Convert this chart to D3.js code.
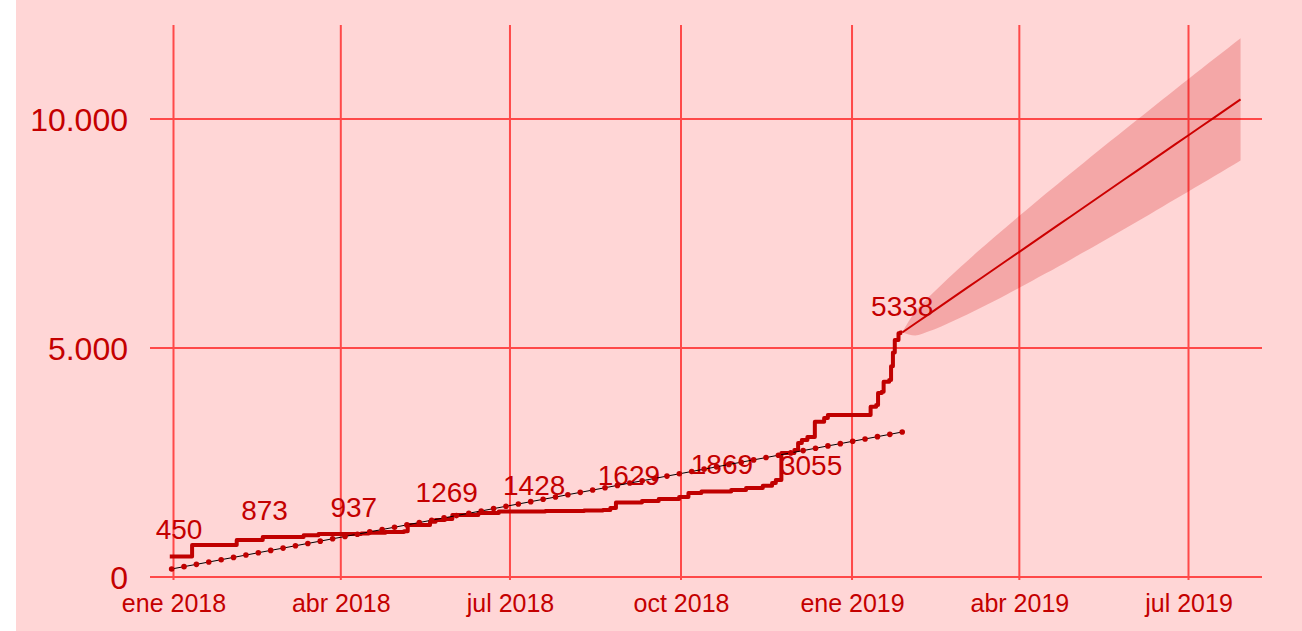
<!DOCTYPE html>
<html>
<head>
<meta charset="utf-8">
<script src="https://cdn.jsdelivr.net/npm/d3@7"></script>
<style>
  html, body { margin: 0; padding: 0; background: #ffffff; }
  svg { display: block; }
  text { font-family: "Liberation Sans", Arial, sans-serif; }
</style>
</head>
<body>
<svg id="chart" width="1302" height="631"></svg>
<script>
// Cumulative count: each value holds from its date until the next date
const stepDates = [
  "2017-12-30", "2018-01-11", "2018-02-04", "2018-02-18", "2018-03-12", "2018-03-20",
  "2018-04-12", "2018-04-16", "2018-04-25", "2018-05-05", "2018-05-07", "2018-05-19",
  "2018-05-22", "2018-05-27", "2018-05-31", "2018-06-14", "2018-06-25", "2018-07-20",
  "2018-08-10", "2018-08-20", "2018-08-24", "2018-08-27", "2018-09-10", "2018-09-19",
  "2018-09-30", "2018-10-05", "2018-10-12", "2018-10-28", "2018-11-05", "2018-11-14",
  "2018-11-19", "2018-11-21", "2018-11-24", "2018-12-01", "2018-12-03", "2018-12-05",
  "2018-12-08", "2018-12-12", "2018-12-17", "2018-12-19", "2019-01-11", "2019-01-14",
  "2019-01-15", "2019-01-17", "2019-01-18", "2019-01-21", "2019-01-22", "2019-01-23",
  "2019-01-24", "2019-01-26", "2019-01-27", "2019-01-28"
];
const stepValues = [
  450, 700, 808, 873, 910, 937,
  950, 965, 985, 1000, 1135, 1208,
  1245, 1269, 1354, 1400, 1428, 1440,
  1450, 1463, 1506, 1629, 1660, 1703,
  1747, 1834, 1869, 1900, 1943, 1990,
  2050, 2118, 2707, 2773, 2926, 2991,
  3055, 3391, 3472, 3537, 3718, 3755,
  4017, 4046, 4264, 4301, 4600, 4900,
  5175, 5321, 5338, 5338
];

// Annotated points on the cumulative line
const labelDates = ["2018-01-04", "2018-02-19", "2018-04-08", "2018-05-28", "2018-07-14",
                    "2018-09-03", "2018-10-23", "2018-12-10", "2019-01-28"];
const labelValues = [450, 873, 937, 1269, 1428, 1629, 1869, 3055, 5338];

// Linear trend, evenly spaced points between its first and last date
const trendStart = "2017-12-31";
const trendEnd = "2019-01-28";
const trendValues = [
  175, 226, 276, 327, 378, 428, 479, 530, 581, 631,
  682, 733, 783, 834, 885, 935, 986, 1037, 1087, 1138,
  1189, 1240, 1290, 1341, 1392, 1442, 1493, 1544, 1594, 1645,
  1696, 1746, 1797, 1848, 1898, 1949, 2000, 2051, 2101, 2152,
  2203, 2253, 2304, 2355, 2405, 2456, 2507, 2557, 2608, 2659,
  2710, 2760, 2811, 2862, 2912, 2963, 3014, 3064, 3115, 3166
];

// Weekly forecast from the last observation, with its interval
const forecastDates = [
  "2019-01-28", "2019-02-04", "2019-02-11", "2019-02-18", "2019-02-25", "2019-03-04",
  "2019-03-11", "2019-03-18", "2019-03-25", "2019-04-01", "2019-04-08", "2019-04-15",
  "2019-04-22", "2019-04-29", "2019-05-06", "2019-05-13", "2019-05-20", "2019-05-27",
  "2019-06-03", "2019-06-10", "2019-06-17", "2019-06-24", "2019-07-01", "2019-07-08",
  "2019-07-15", "2019-07-22", "2019-07-29"
];
const forecastMean = [
  5338, 5534, 5730, 5925, 6121, 6317, 6513, 6709, 6904, 7100, 7296, 7492, 7688, 7883,
  8079, 8275, 8471, 8667, 8862, 9058, 9254, 9450, 9646, 9841, 10037, 10233, 10429
];
const forecastLower = [
  5338, 5272, 5360, 5472, 5598, 5732, 5872, 6017, 6164, 6315, 6469, 6624, 6782, 6940,
  7100, 7262, 7424, 7588, 7752, 7917, 8084, 8251, 8419, 8586, 8755, 8925, 9095
];
const forecastUpper = [
  5338, 5796, 6100, 6378, 6644, 6902, 7154, 7401, 7644, 7885, 8123, 8360, 8594, 8826,
  9058, 9288, 9518, 9746, 9972, 10199, 10424, 10649, 10873, 11096, 11319, 11541, 11763
];

// Axis ticks
const xTickDates = ["2018-01-01", "2018-04-01", "2018-07-01", "2018-10-01",
                    "2019-01-01", "2019-04-01", "2019-07-01"];
const xTickLabels = ["ene 2018", "abr 2018", "jul 2018", "oct 2018",
                     "ene 2019", "abr 2019", "jul 2019"];
const yTicks = [0, 5000, 10000];

const parse = d3.utcParse("%Y-%m-%d");
const esLocale = d3.formatLocale({ decimal: ",", thousands: ".", grouping: [3], currency: ["", " €"] });
const fmtY = esLocale.format(",d");

const W = 1302, H = 631;
const panelLeft = 16;
const plot = { left: 150, right: 1262, top: 25, bottom: 577 };

const x = d3.scaleUtc()
  .domain([parse("2018-01-01"), parse("2019-07-01")])
  .range([173.5, 1188.5]);
const y = d3.scaleLinear()
  .domain([0, 10000])
  .range([plot.bottom, 119]);

const svg = d3.select("#chart");

const C = {
  panel: "#ffd6d6",
  grid: "#ff3a3a",
  text: "#c40000",
  line: "#c00000",
  band: "#cc0000"
};

svg.append("rect")
  .attr("x", panelLeft).attr("y", 0)
  .attr("width", W - panelLeft).attr("height", H)
  .attr("fill", C.panel);

// Grid
const grid = svg.append("g").attr("stroke", C.grid).attr("stroke-width", 2).attr("opacity", 0.9);
grid.selectAll("line.h").data(yTicks).join("line")
  .attr("class", "h")
  .attr("x1", plot.left).attr("x2", plot.right)
  .attr("y1", d => y(d)).attr("y2", d => y(d));
grid.selectAll("line.v").data(xTickDates.map(parse)).join("line")
  .attr("class", "v")
  .attr("x1", d => x(d)).attr("x2", d => x(d))
  .attr("y1", plot.top).attr("y2", plot.bottom + 3);

// Axes (labels only; the grid draws the lines)
const xAxis = d3.axisBottom(x)
  .tickValues(xTickDates.map(parse))
  .tickFormat((d, i) => xTickLabels[i])
  .tickSize(0).tickPadding(0);
const gx = svg.append("g").attr("transform", `translate(0,${plot.bottom})`).call(xAxis);
gx.select(".domain").remove();
gx.selectAll("text")
  .attr("y", 35).attr("dy", null)
  .attr("fill", C.text).attr("font-size", 25)
  .attr("font-family", '"Liberation Sans", Arial, sans-serif');

const yAxis = d3.axisLeft(y).tickValues(yTicks).tickFormat(fmtY).tickSize(0).tickPadding(0);
const gy = svg.append("g").attr("transform", `translate(128,0)`).call(yAxis);
gy.select(".domain").remove();
gy.selectAll("text")
  .attr("x", 0).attr("dy", "0.36em")
  .attr("fill", C.text).attr("font-size", 32)
  .attr("font-family", '"Liberation Sans", Arial, sans-serif');

// Forecast interval and mean
const fc = forecastDates.map((d, i) => ({
  date: parse(d), mean: forecastMean[i], lo: forecastLower[i], hi: forecastUpper[i]
}));
svg.append("path")
  .datum(fc)
  .attr("fill", C.band).attr("fill-opacity", 0.22)
  .attr("d", d3.area().curve(d3.curveMonotoneX)
    .x(d => x(d.date)).y0(d => y(d.lo)).y1(d => y(d.hi)));
svg.append("path")
  .datum(fc)
  .attr("fill", "none").attr("stroke", "#cc0000").attr("stroke-width", 2)
  .attr("d", d3.line().x(d => x(d.date)).y(d => y(d.mean)));

// Cumulative step line
const steps = stepDates.map((d, i) => ({ date: parse(d), value: stepValues[i] }));
svg.append("path")
  .datum(steps)
  .attr("fill", "none").attr("stroke", C.line).attr("stroke-width", 4)
  .attr("stroke-linejoin", "round")
  .attr("d", d3.line().curve(d3.curveStepAfter).x(d => x(d.date)).y(d => y(d.value)));

// Value labels; a label drops below its point when the count jumps right after it
const valueAt = date => {
  let v = steps[0].value;
  for (const s of steps) { if (s.date <= date) v = s.value; }
  return v;
};
const labels = labelDates.map((d, i) => {
  const date = parse(d);
  const later = valueAt(d3.utcDay.offset(date, 3));
  return { date, value: labelValues[i], below: later > labelValues[i] * 1.1 };
});
svg.append("g").selectAll("text").data(labels).join("text")
  .attr("x", d => x(d.date))
  .attr("y", d => y(d.value) + (d.below ? 38 : -17))
  .attr("text-anchor", "middle")
  .attr("fill", C.text).attr("font-size", 28)
  .text(d => d.value);

// Trend line with its points
const t0 = parse(trendStart), t1 = parse(trendEnd);
const n = trendValues.length;
const trend = trendValues.map((v, i) => ({
  date: new Date(+t0 + (+t1 - +t0) * i / (n - 1)), value: v
}));
svg.append("path")
  .datum(trend)
  .attr("fill", "none").attr("stroke", "#000").attr("stroke-width", 1)
  .attr("d", d3.line().x(d => x(d.date)).y(d => y(d.value)));
svg.append("g").selectAll("circle").data(trend).join("circle")
  .attr("cx", d => x(d.date)).attr("cy", d => y(d.value))
  .attr("r", 2.8).attr("fill", C.line);
</script>
</body>
</html>
